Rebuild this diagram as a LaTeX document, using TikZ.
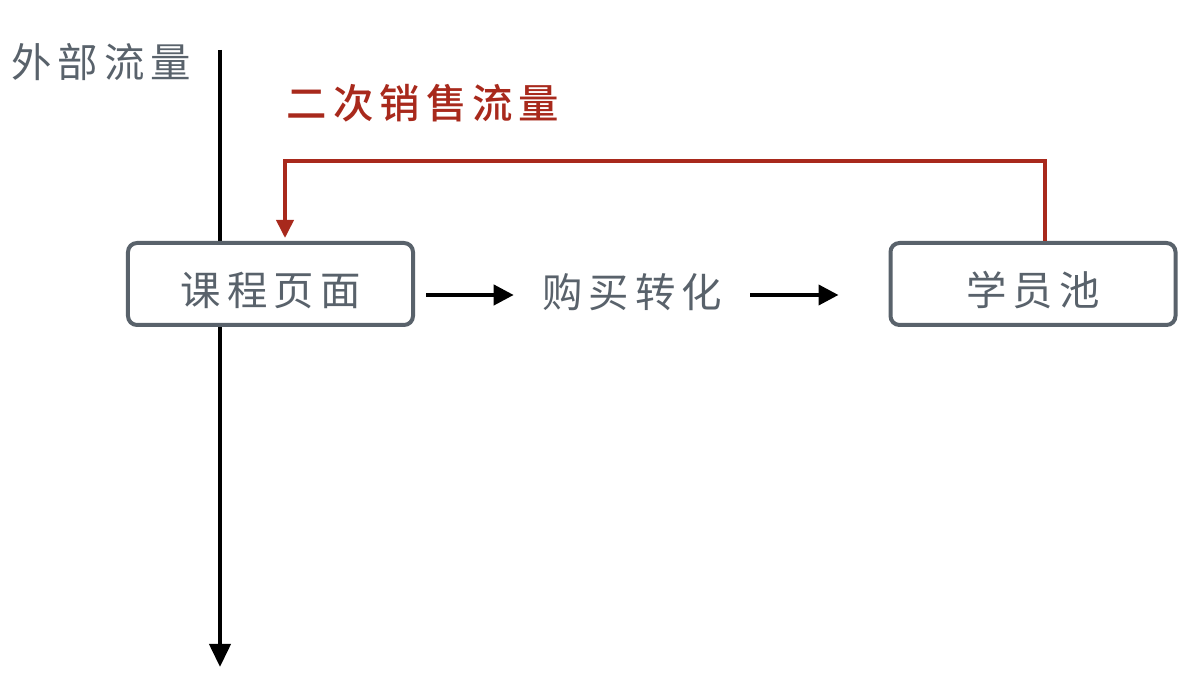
\documentclass[tikz,border=0pt]{standalone}
\usepackage{fontspec}
\usepackage{xcolor}
\definecolor{flowgray}{HTML}{59626B}
\definecolor{flowred}{HTML}{A8291C}
\newfontfamily\cjk[LetterSpace=15,BoldFont={Noto Sans CJK SC Medium}]{Noto Sans CJK SC}
\usepackage{tikz}
\usetikzlibrary{arrows.meta,positioning,calc}
\tikzset{
  stagebox/.style={draw=flowgray,line width=0.8mm,rounded corners=1.8mm,fill=white,
    minimum width=57mm,minimum height=16.4mm,text=flowgray,font=\cjk\fontsize{23}{27}\selectfont,
    text height=9.6mm,text depth=1mm},
  plainlbl/.style={text=flowgray,font=\cjk\fontsize{23}{27}\selectfont,inner sep=0pt},
  flowarrow/.style={line width=0.8mm,-{Triangle[length=4mm,width=4mm]}},
}

\begin{document}
\begin{tikzpicture}[x=0.2mm,y=-0.2mm]
\useasboundingbox (0,0) rectangle (1196,690);
% external traffic axis
\coordinate (axtop) at (220,50);
\coordinate (axbot) at (220,667);
\draw[flowarrow,-{Triangle[length=4.6mm,width=4.2mm]}] (axtop) -- (axbot);
\node[plainlbl] (extlbl) at (101,62) {外部流量};

\node[stagebox] (course) at (270.5,284) {课程页面};
\node[plainlbl] (buy) at (632,292) {购买转化};
\node[stagebox] (pool) at (1033,284) {学员池};

% conversion arrows
\coordinate (a1s) at ($(course.east)+(11,11)$);
\coordinate (a1e) at ($(buy.west)+(-28,3)$);
\coordinate (a2s) at ($(buy.east)+(28,3)$);
\coordinate (a2e) at ($(pool.west)+(-50,11)$);
\draw[flowarrow] (a1s) -- (a1e);
\draw[flowarrow] (a2s) -- (a2e);

% repeat sales loop
\coordinate (loopr) at ($(pool.north)+(12,0)$);
\coordinate (loopl) at ($(course.north)+(14.5,-3)$);
\draw[flowred,line width=0.75mm,-{Triangle[length=3.6mm,width=3.4mm]}]
  (loopr) -- ++(0,-80) -| (loopl);
\node[plainlbl,text=flowred,font=\cjk\bfseries\fontsize{23}{27}\selectfont] (salelbl) at (423,103) {二次销售流量};
\end{tikzpicture}
\end{document}
